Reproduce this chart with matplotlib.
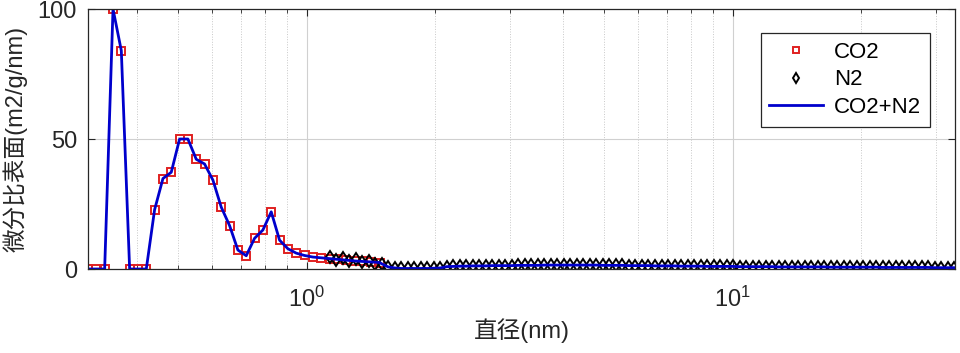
import numpy as np
import matplotlib
matplotlib.use("Agg")
import matplotlib.pyplot as plt
from matplotlib.ticker import LogLocator, NullFormatter, FixedLocator

plt.rcParams['font.family'] = ['Liberation Sans', 'Noto Sans CJK SC', 'DejaVu Sans']
plt.rcParams['mathtext.fontset'] = 'custom'
plt.rcParams['mathtext.rm'] = 'Liberation Sans'
plt.rcParams['mathtext.default'] = 'regular'

# CO2 branch (pore width nm, dS/dw)
co2_x = [0.3066, 0.3208, 0.3355, 0.3510, 0.3671, 0.3840, 0.4017, 0.4202, 0.4395,
         0.4598, 0.4809, 0.5031, 0.5262, 0.5505, 0.5758, 0.6024, 0.6301, 0.6592,
         0.6895, 0.7213, 0.7545, 0.7893, 0.8257, 0.8637, 0.9035, 0.9451, 0.9886,
         1.034, 1.082, 1.132, 1.184, 1.238, 1.296, 1.355, 1.418, 1.483]
co2_y = [0, 0, 0, 100, 84, 0, 0, 0, 22.8, 34.8, 37.2, 50, 50, 42.2, 40.4, 34.2,
         23.8, 16.7, 7.3, 5.1, 11.8, 15.0, 22.0, 11.1, 7.8, 6.1, 5.2, 4.6, 4.3,
         4.0, 3.7, 3.4, 3.1, 2.9, 2.7, 2.5]

# N2 branch
n2_x = [1.132, 1.173, 1.215, 1.259, 1.304, 1.350, 1.399, 1.449, 1.501, 1.554,
        1.610, 1.668, 1.727, 1.789, 1.853, 1.920, 1.988, 2.060, 2.133, 2.210,
        2.288, 2.370, 2.455, 2.543, 2.634, 2.728, 2.826, 2.927, 3.032, 3.141,
        3.253, 3.370, 3.490, 3.615, 3.745, 3.879, 4.018, 4.161, 4.310, 4.465,
        4.626, 4.791, 4.963, 5.141, 5.325, 5.515, 5.713, 5.918, 6.129, 6.349,
        6.577, 6.812, 7.056, 7.309, 7.571, 7.842, 8.123, 8.413, 8.715, 9.027,
        9.350, 9.685, 10.03, 10.39, 10.76, 11.15, 11.55, 11.96, 12.39, 12.83,
        13.29, 13.77, 14.26, 14.77, 15.30, 15.85, 16.42, 17.00, 17.61, 18.24,
        18.90, 19.57, 20.27, 21.00, 21.75, 22.53, 23.34, 24.17, 25.04, 25.94,
        26.87, 27.83, 28.83, 29.86, 30.93, 32.03, 33.18]
n2_y = [4.8, 3.6, 4.4, 3.2, 3.8, 2.6, 3.0, 1.8, 2.0,
        0.8, 0.4, 0.2, 0.2, 0.2, 0.2, 0.2, 0.3, 0.4,
        0.9, 1.0, 1.1, 1.1, 1.2, 1.2, 1.2, 1.3, 1.3, 1.3, 1.3, 1.4, 1.4,
        1.4, 1.4, 1.5, 1.5, 1.5, 1.5, 1.5, 1.5, 1.5, 1.5, 1.5, 1.4, 1.4, 1.4,
        1.4, 1.3, 1.3, 1.3, 1.3, 1.2,
        1.2, 1.2, 1.2, 1.1, 1.1, 1.1, 1.1, 1.0, 1.0, 1.0, 1.0, 1.0, 0.9, 0.9,
        0.9, 0.9, 0.9, 0.9, 0.8, 0.8,
        0.8, 0.8, 0.8, 0.8, 0.8, 0.8, 0.7, 0.7, 0.7, 0.7, 0.7, 0.7, 0.7, 0.7,
        0.6, 0.6, 0.6, 0.6, 0.6, 0.6, 0.6, 0.6, 0.5, 0.5, 0.5, 0.5]

# merged curve: CO2 for small pores, N2 beyond the CO2 range
n2_x = np.array(n2_x)
n2_y = np.array(n2_y)
keep = n2_x > co2_x[-1]
all_x = np.concatenate([co2_x, n2_x[keep]])
all_y = np.concatenate([co2_y, n2_y[keep]])

ax_col = '#262626'
fig = plt.figure(figsize=(9.6, 3.53), dpi=100)
ax = fig.add_axes([88/960, 1-269/353, (955-88)/960, (269-9)/353])

ax.plot(co2_x, co2_y, 's', ls='none', mfc='none', mec='#e02020', ms=5.2, mew=1.4, label='CO2')
ax.plot(n2_x, n2_y, 'd', ls='none', mfc='none', mec='black', ms=6, mew=1.4, label='N2')
ax.plot(all_x, all_y, '-', color='#0000cc', lw=2, label='CO2+N2')

ax.set_xscale('log')
ax.set_xlim(0.3066, 33.3)
ax.set_ylim(0, 100)
ax.set_yticks([0, 50, 100])
ax.xaxis.set_major_locator(FixedLocator([1, 10]))
ax.xaxis.set_minor_locator(LogLocator(base=10, subs=np.arange(2, 10)))
ax.xaxis.set_minor_formatter(NullFormatter())

ax.grid(True, which='major', color='#d0d0d0', lw=0.8, ls='-')
ax.grid(True, which='minor', axis='x', color='#c8c8c8', lw=0.7, ls=':')
ax.set_axisbelow(True)

ax.tick_params(which='both', direction='in', top=True, right=True, colors=ax_col,
               labelsize=17)
ax.tick_params(axis='x', pad=13)
ax.tick_params(axis='y', pad=8)
ax.tick_params(which='major', length=5)
ax.tick_params(which='minor', length=3)
for s in ax.spines.values():
    s.set_color(ax_col)
    s.set_linewidth(0.9)

ax.set_xlabel('直径(nm)', fontsize=17, color=ax_col, labelpad=4)
ax.set_ylabel('微分比表面(m2/g/nm)', fontsize=17, color=ax_col, labelpad=7)

leg = ax.legend(loc='upper right', bbox_to_anchor=(0.971, 0.908), borderaxespad=0,
                fontsize=16, frameon=True, fancybox=False, framealpha=1,
                edgecolor=ax_col, handlelength=2.4, borderpad=0.4,
                labelspacing=0.3, handletextpad=0.5, markerscale=0.8)
leg.get_frame().set_linewidth(0.9)

fig.savefig('out.png', dpi=100)
